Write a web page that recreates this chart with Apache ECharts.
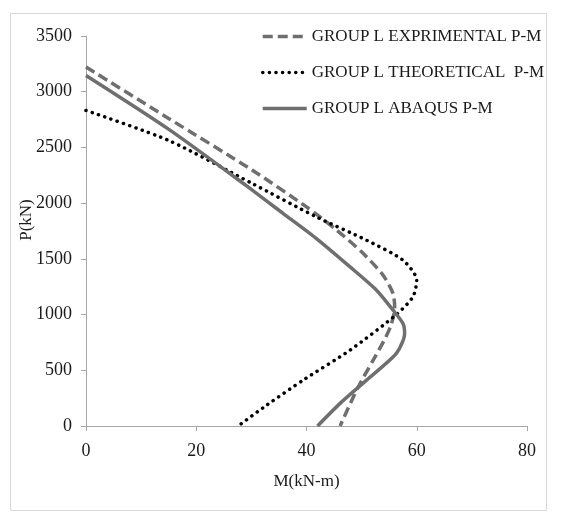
<!DOCTYPE html>
<html>
<head>
<meta charset="utf-8">
<script src="https://cdn.jsdelivr.net/npm/echarts@6/dist/echarts.min.js"></script>
<style>
html,body{margin:0;padding:0;background:#fff;}
#chart{width:562px;height:518px;}
</style>
</head>
<body>
<div id="chart"></div>
<script>
// Series names
const seriesNames = ['GROUP L EXPRIMENTAL P-M', 'GROUP L THEORETICAL  P-M', 'GROUP L ABAQUS P-M'];

// Experimental: M (kN-m), P (kN)
const expM = [0, 15.0, 30.2, 40.0, 45.5, 50.3, 53.9, 55.7, 56.0, 55.3, 54.0, 52.1, 49.1, 46.1];
const expP = [3221, 2760, 2295, 1966, 1757, 1548, 1353, 1189, 1060, 900, 760, 592, 323, 0];

// Theoretical
const theoM = [0, 15.1, 30.0, 41.8, 50.9, 57.5, 60.0, 59.3, 56.3, 47.9, 39.4, 32.8, 27.6];
const theoP = [2832, 2560, 2180, 1876, 1667, 1488, 1309, 1159, 1000, 681, 412, 188, 0];

// ABAQUS
const abqM = [0, 15.1, 29.0, 35.8, 41.8, 47.9, 52.7, 55.7, 57.5, 57.8, 56.3, 50.9, 46.1, 42.0];
const abqP = [3146, 2660, 2160, 1906, 1682, 1428, 1219, 1040, 920, 831, 651, 412, 203, 0];

// Axis ticks
const xTicks = [0, 20, 40, 60, 80];
const yTicks = [0, 500, 1000, 1500, 2000, 2500, 3000, 3500];

const zip = (a, b) => a.map((v, i) => [v, b[i]]);
const FONT = '"Liberation Serif", "Times New Roman", serif';

const chart = echarts.init(document.getElementById('chart'));
chart.setOption({
  animation: false,
  backgroundColor: '#fff',
  textStyle: { fontFamily: FONT },
  graphic: [
    { type: 'rect', shape: { x: 10.5, y: 13.5, width: 536, height: 497 },
      style: { fill: 'none', stroke: '#d9d9d9', lineWidth: 1 }, silent: true },
    { type: 'text', x: 27, y: 220, rotation: Math.PI / 2,
      style: { text: 'P(kN)', font: '17px ' + FONT, fill: '#1a1a1a', align: 'center', verticalAlign: 'middle' } }
  ],
  legend: {
    orient: 'vertical',
    left: 256,
    top: 23,
    itemWidth: 44,
    itemHeight: 14,
    itemGap: 19,
    data: seriesNames,
    itemStyle: { opacity: 0 },
    lineStyle: { width: 3.5 },
    textStyle: { fontFamily: FONT, fontSize: 17, color: '#1a1a1a' }
  },
  grid: { left: 86, right: 35, top: 36, bottom: 92, containLabel: false },
  xAxis: {
    type: 'value', min: xTicks[0], max: xTicks[xTicks.length - 1], interval: 20,
    name: 'M(kN-m)', nameLocation: 'middle', nameGap: 47,
    nameTextStyle: { fontFamily: FONT, fontSize: 17, color: '#1a1a1a' },
    axisLine: { show: true, lineStyle: { color: '#a6a6a6', width: 1 } },
    axisTick: { show: true, length: 5, lineStyle: { color: '#a6a6a6' } },
    axisLabel: { margin: 16, fontFamily: FONT, fontSize: 18, color: '#1a1a1a' },
    splitLine: { show: false }
  },
  yAxis: {
    type: 'value', min: yTicks[0], max: yTicks[yTicks.length - 1], interval: 500,
    axisLine: { show: true, lineStyle: { color: '#a6a6a6', width: 1 } },
    axisTick: { show: true, length: 5, lineStyle: { color: '#a6a6a6' } },
    axisLabel: { margin: 14, fontFamily: FONT, fontSize: 18, color: '#1a1a1a',
      formatter: v => String(v) },
    splitLine: { show: false }
  },
  series: [
    { name: seriesNames[0], type: 'line', data: zip(expM, expP), smooth: 0.25,
      symbol: 'none', color: '#6f6f6f',
      lineStyle: { color: '#6f6f6f', width: 3.5, type: [10, 5] } },
    { name: seriesNames[1], type: 'line', data: zip(theoM, theoP), smooth: 0.25,
      symbol: 'none', color: '#000',
      lineStyle: { color: '#000', width: 3.5, type: [0.1, 6.5], cap: 'round' } },
    { name: seriesNames[2], type: 'line', data: zip(abqM, abqP), smooth: 0.25,
      symbol: 'none', color: '#6f6f6f',
      lineStyle: { color: '#6f6f6f', width: 3.5, type: 'solid' } }
  ]
});
</script>
</body>
</html>
